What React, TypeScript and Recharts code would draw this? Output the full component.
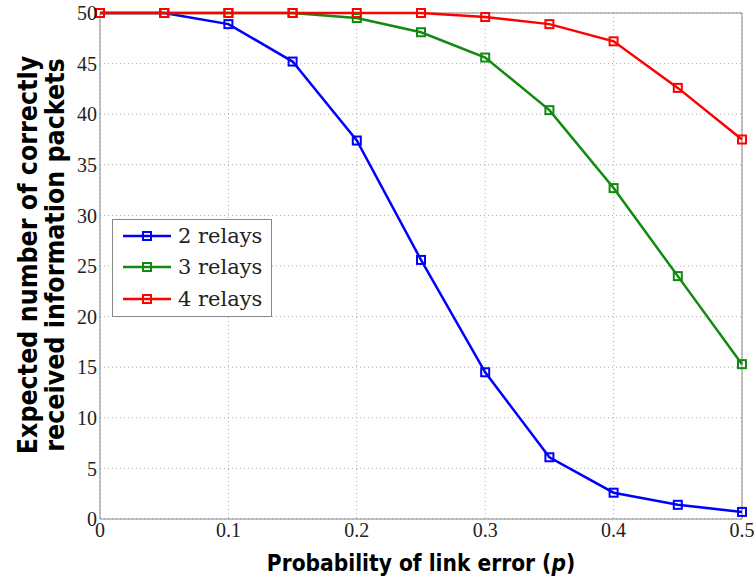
import React from 'react';
import {
  LineChart,
  Line,
  XAxis,
  YAxis,
  CartesianGrid,
  Legend,
  ReferenceLine
} from 'recharts';

const pValues = [0, 0.05, 0.1, 0.15, 0.2, 0.25, 0.3, 0.35, 0.4, 0.45, 0.5];
const relays2 = [50, 50, 48.9, 45.2, 37.4, 25.6, 14.5, 6.1, 2.6, 1.4, 0.7];
const relays3 = [50, 50, 50, 50, 49.5, 48.1, 45.6, 40.4, 32.7, 24.0, 15.3];
const relays4 = [50, 50, 50, 50, 50, 50, 49.6, 48.9, 47.2, 42.6, 37.5];
const xTicks = [0, 0.1, 0.2, 0.3, 0.4, 0.5];
const yTicks = [0, 5, 10, 15, 20, 25, 30, 35, 40, 45, 50];

const data = pValues.map((p, i) => ({
  p,
  r2: relays2[i],
  r3: relays3[i],
  r4: relays4[i]
}));

const serif = "'Liberation Serif', 'Times New Roman', serif";
const titleFont = "'DejaVu Sans Condensed', 'DejaVu Sans', sans-serif";

const squareDot = (color: string) => (props: any) => {
  const { cx, cy, index } = props;
  if (cx == null || cy == null) return <g key={index} />;
  return (
    <rect
      key={index}
      x={cx - 4}
      y={cy - 4}
      width={8}
      height={8}
      fill="none"
      stroke={color}
      strokeWidth={2}
    />
  );
};

const YTitle = () => (
  <g>
    <text
      x={27}
      y={255}
      transform="rotate(-90 27 255)"
      textAnchor="middle"
      dominantBaseline="central"
      fontFamily={titleFont}
      fontWeight="bold"
      fontSize={26.5}
      fill="#000"
    >
      Expected number of correctly
    </text>
    <text
      x={54}
      y={255}
      transform="rotate(-90 54 255)"
      textAnchor="middle"
      dominantBaseline="central"
      fontFamily={titleFont}
      fontWeight="bold"
      fontSize={26.5}
      fill="#000"
    >
      received information packets
    </text>
  </g>
);

const XTitle = () => (
  <text
    x={421}
    y={563}
    textAnchor="middle"
    dominantBaseline="central"
    fontFamily={titleFont}
    fontWeight="bold"
    fontSize={22.5}
    fill="#000"
  >
    Probability of link error (<tspan fontStyle="italic">p</tspan>)
  </text>
);

// absolutely positioned so the legend does not take space from the plot
const LegendBox = ({ payload }: any) => (
  <div
    style={{
      position: 'absolute',
      left: 0,
      top: 0,
      width: 158,
      height: 96,
      border: '1px solid #888',
      background: '#fff'
    }}
  >
    {(payload || []).map((entry: any) => (
      <div
        key={entry.value}
        style={{ display: 'flex', alignItems: 'center', height: 31.5 }}
      >
        <svg width={57} height={20} style={{ marginLeft: 8 }}>
          <line x1={2} y1={10} x2={50} y2={10} stroke={entry.color} strokeWidth={2.5} />
          <rect x={22} y={6} width={8} height={8} fill="none" stroke={entry.color} strokeWidth={2} />
        </svg>
        <span style={{ fontFamily: "'DejaVu Serif', serif", fontSize: 21, color: '#222' }}>
          {entry.value}
        </span>
      </div>
    ))}
  </div>
);

export default function App() {
  return (
    <div style={{ position: 'absolute', left: 0, top: 0, background: '#fff' }}>
      <LineChart
        width={756}
        height={577}
        data={data}
        margin={{ top: 13, right: 14, bottom: 0, left: 0 }}
      >
        <CartesianGrid strokeDasharray="1 3" stroke="#aaa" />
        <XAxis
          dataKey="p"
          type="number"
          domain={[0, 0.5]}
          ticks={xTicks}
          height={58}
          tickLine={false}
          tickSize={4}
          tickMargin={0}
          stroke="#888"
          tick={{ fontFamily: serif, fontSize: 20, fill: '#222' }}
        />
        <YAxis
          type="number"
          domain={[0, 50]}
          ticks={yTicks}
          width={100}
          tickLine={false}
          tickSize={3}
          tickMargin={0}
          stroke="#888"
          tick={{ fontFamily: serif, fontSize: 20, fill: '#222' }}
        />
        <ReferenceLine y={50} stroke="#888" strokeWidth={1} />
        <ReferenceLine x={0.5} stroke="#888" strokeWidth={1} />
        <Legend
          content={<LegendBox />}
          wrapperStyle={{ position: 'absolute', left: 112, top: 219, width: 0, height: 0 }}
        />
        <Line
          dataKey="r2"
          name="2 relays"
          stroke="#0000ff"
          strokeWidth={2.5}
          dot={squareDot('#0000ff')}
          isAnimationActive={false}
        />
        <Line
          dataKey="r3"
          name="3 relays"
          stroke="#108a10"
          strokeWidth={2.5}
          dot={squareDot('#108a10')}
          isAnimationActive={false}
        />
        <Line
          dataKey="r4"
          name="4 relays"
          stroke="#ff0000"
          strokeWidth={2.5}
          dot={squareDot('#ff0000')}
          isAnimationActive={false}
        />
        <YTitle />
        <XTitle />
      </LineChart>
    </div>
  );
}
